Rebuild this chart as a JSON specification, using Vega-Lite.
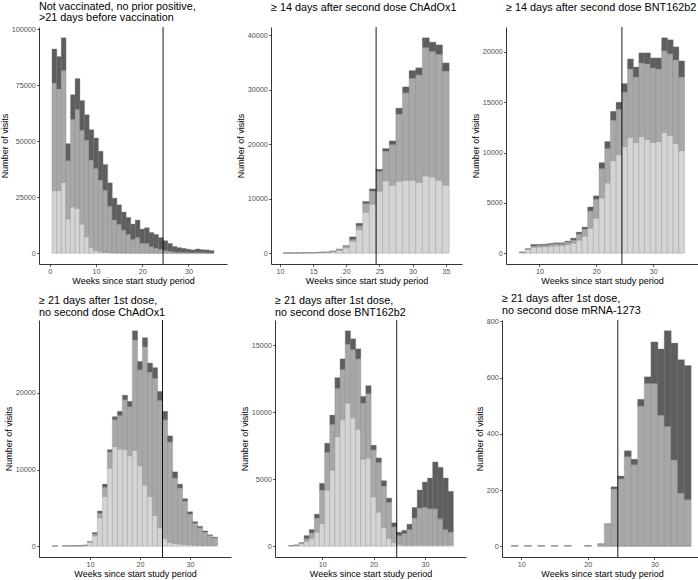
{
"$schema": "https://vega.github.io/schema/vega-lite/v6.json",
"padding": 0,
"background": "white",
"config": {
  "view": {"stroke": null},
  "font": "Liberation Sans",
  "title": {"fontSize": 10.8, "fontWeight": "normal", "anchor": "start", "frame": "group", "color": "black", "offset": 2, "lineHeight": 11.5, "font": "Liberation Sans"},
  "axis": {"grid": false, "domainColor": "black", "domainWidth": 0.8, "tickColor": "#333333", "tickWidth": 0.8, "tickSize": 2.5, "labelColor": "#4d4d4d", "labelFontSize": 7.2, "labelFont": "Liberation Sans", "titleFont": "Liberation Sans", "titleFontSize": 9, "titleFontWeight": "normal", "titleColor": "black", "labelPadding": 1.2, "titlePadding": 1.5, "labelFlush": false, "labelOverlap": false}
},
"datasets": {
  "p1": [
    {"w":1,"g1":27900,"g2":48000,"g3":15200},{"w":2,"g1":28000,"g2":45300,"g3":14400},{"w":3,"g1":31600,"g2":49900,"g3":14600},{"w":4,"g1":15300,"g2":26000,"g3":7600},{"w":5,"g1":20700,"g2":39000,"g3":11000},{"w":6,"g1":20000,"g2":44100,"g3":13800},{"w":7,"g1":13000,"g2":41800,"g3":13300},{"w":8,"g1":7400,"g2":43000,"g3":11400},{"w":9,"g1":2700,"g2":38800,"g3":13600},{"w":10,"g1":1200,"g2":36600,"g3":13600},{"w":11,"g1":700,"g2":31900,"g3":12900},{"w":12,"g1":500,"g2":27600,"g3":11500},{"w":13,"g1":300,"g2":20700,"g3":10400},{"w":14,"g1":200,"g2":14600,"g3":9800},{"w":15,"g1":150,"g2":12750,"g3":8700},{"w":16,"g1":100,"g2":10300,"g3":8000},{"w":17,"g1":100,"g2":8300,"g3":7600},{"w":18,"g1":100,"g2":6100,"g3":6800},{"w":19,"g1":100,"g2":7000,"g3":7700},{"w":20,"g1":80,"g2":4300,"g3":6400},{"w":21,"g1":80,"g2":4300,"g3":7000},{"w":22,"g1":60,"g2":2900,"g3":6300},{"w":23,"g1":50,"g2":2150,"g3":6200},{"w":24,"g1":50,"g2":1750,"g3":5200},{"w":25,"g1":40,"g2":1150,"g3":4400},{"w":26,"g1":30,"g2":870,"g3":3500},{"w":27,"g1":30,"g2":570,"g3":2400},{"w":28,"g1":20,"g2":430,"g3":2050},{"w":29,"g1":20,"g2":380,"g3":1800},{"w":30,"g1":20,"g2":280,"g3":1500},{"w":31,"g1":20,"g2":230,"g3":1250},{"w":32,"g1":20,"g2":280,"g3":1600},{"w":33,"g1":20,"g2":230,"g3":1350},{"w":34,"g1":20,"g2":180,"g3":1300},{"w":35,"g1":20,"g2":130,"g3":1050}
  ],
  "p2": [
    {"w":11,"g1":50,"g2":0,"g3":0},{"w":12,"g1":60,"g2":0,"g3":0},{"w":13,"g1":70,"g2":5,"g3":0},{"w":14,"g1":90,"g2":10,"g3":0},{"w":15,"g1":110,"g2":10,"g3":0},{"w":16,"g1":140,"g2":20,"g3":0},{"w":17,"g1":170,"g2":30,"g3":5},{"w":18,"g1":300,"g2":80,"g3":20},{"w":19,"g1":550,"g2":150,"g3":50},{"w":20,"g1":1000,"g2":300,"g3":100},{"w":21,"g1":2200,"g2":300,"g3":500},{"w":22,"g1":4300,"g2":700,"g3":500},{"w":23,"g1":7500,"g2":1600,"g3":400},{"w":24,"g1":9000,"g2":2400,"g3":400},{"w":25,"g1":11400,"g2":3600,"g3":400},{"w":26,"g1":13300,"g2":5400,"g3":500},{"w":27,"g1":12500,"g2":7400,"g3":700},{"w":28,"g1":13200,"g2":12300,"g3":1100},{"w":29,"g1":13400,"g2":16000,"g3":1100},{"w":30,"g1":13400,"g2":18700,"g3":1400},{"w":31,"g1":13000,"g2":19700,"g3":1300},{"w":32,"g1":14200,"g2":23500,"g3":1800},{"w":33,"g1":14000,"g2":23000,"g3":1700},{"w":34,"g1":13400,"g2":23100,"g3":1700},{"w":35,"g1":12500,"g2":20900,"g3":1500}
  ],
  "p3": [
    {"w":7,"g1":100,"g2":0,"g3":0},{"w":8,"g1":400,"g2":30,"g3":10},{"w":9,"g1":600,"g2":120,"g3":160},{"w":10,"g1":630,"g2":150,"g3":100},{"w":11,"g1":650,"g2":150,"g3":100},{"w":12,"g1":700,"g2":180,"g3":100},{"w":13,"g1":750,"g2":190,"g3":100},{"w":14,"g1":750,"g2":190,"g3":100},{"w":15,"g1":850,"g2":250,"g3":100},{"w":16,"g1":1000,"g2":300,"g3":200},{"w":17,"g1":1300,"g2":600,"g3":200},{"w":18,"g1":1700,"g2":700,"g3":200},{"w":19,"g1":2500,"g2":1700,"g3":400},{"w":20,"g1":3500,"g2":1850,"g3":350},{"w":21,"g1":5500,"g2":2900,"g3":600},{"w":22,"g1":7000,"g2":3400,"g3":700},{"w":23,"g1":9200,"g2":4000,"g3":900},{"w":24,"g1":9800,"g2":4500,"g3":700},{"w":25,"g1":10600,"g2":5400,"g3":850},{"w":26,"g1":11500,"g2":6800,"g3":1000},{"w":27,"g1":11000,"g2":6500,"g3":1000},{"w":28,"g1":11600,"g2":7300,"g3":1000},{"w":29,"g1":11300,"g2":7500,"g3":1100},{"w":30,"g1":11000,"g2":7400,"g3":1000},{"w":31,"g1":11100,"g2":7200,"g3":1100},{"w":32,"g1":12000,"g2":8100,"g3":1300},{"w":33,"g1":11700,"g2":8100,"g3":1400},{"w":34,"g1":10900,"g2":8300,"g3":1300},{"w":35,"g1":10200,"g2":7300,"g3":1600}
  ],
  "p4": [
    {"w":3,"g1":30,"g2":0,"g3":0},{"w":5,"g1":60,"g2":0,"g3":0},{"w":6,"g1":50,"g2":0,"g3":0},{"w":7,"g1":60,"g2":0,"g3":0},{"w":8,"g1":70,"g2":0,"g3":0},{"w":9,"g1":120,"g2":0,"g3":0},{"w":10,"g1":550,"g2":50,"g3":0},{"w":11,"g1":1350,"g2":250,"g3":200},{"w":12,"g1":3700,"g2":600,"g3":300},{"w":13,"g1":6500,"g2":1200,"g3":400},{"w":14,"g1":10200,"g2":2100,"g3":300},{"w":15,"g1":13000,"g2":3500,"g3":400},{"w":16,"g1":12700,"g2":4350,"g3":550},{"w":17,"g1":12600,"g2":6500,"g3":600},{"w":18,"g1":11800,"g2":6400,"g3":700},{"w":19,"g1":12500,"g2":14400,"g3":1200},{"w":20,"g1":10500,"g2":12500,"g3":1100},{"w":21,"g1":8000,"g2":18000,"g3":1200},{"w":22,"g1":6500,"g2":16200,"g3":1200},{"w":23,"g1":4000,"g2":17900,"g3":1400},{"w":24,"g1":2400,"g2":16600,"g3":1200},{"w":25,"g1":1000,"g2":15500,"g3":1100},{"w":26,"g1":500,"g2":13100,"g3":800},{"w":27,"g1":350,"g2":8550,"g3":800},{"w":28,"g1":300,"g2":7300,"g3":500},{"w":29,"g1":250,"g2":5650,"g3":300},{"w":30,"g1":200,"g2":4000,"g3":300},{"w":31,"g1":150,"g2":2850,"g3":200},{"w":32,"g1":120,"g2":2280,"g3":200},{"w":33,"g1":100,"g2":1750,"g3":150},{"w":34,"g1":100,"g2":1300,"g3":100},{"w":35,"g1":100,"g2":1000,"g3":100}
  ],
  "p5": [
    {"w":4,"g1":50,"g2":0,"g3":0},{"w":5,"g1":80,"g2":0,"g3":0},{"w":6,"g1":200,"g2":50,"g3":20},{"w":7,"g1":370,"g2":200,"g3":230},{"w":8,"g1":570,"g2":430,"g3":250},{"w":9,"g1":1050,"g2":1050,"g3":300},{"w":10,"g1":1700,"g2":2500,"g3":500},{"w":11,"g1":4200,"g2":2800,"g3":700},{"w":12,"g1":5700,"g2":3400,"g3":700},{"w":13,"g1":8200,"g2":3600,"g3":800},{"w":14,"g1":9450,"g2":3750,"g3":800},{"w":15,"g1":10700,"g2":4400,"g3":1000},{"w":16,"g1":9600,"g2":5100,"g3":800},{"w":17,"g1":8750,"g2":5250,"g3":750},{"w":18,"g1":6500,"g2":4200,"g3":500},{"w":19,"g1":6600,"g2":4800,"g3":600},{"w":20,"g1":3700,"g2":3500,"g3":350},{"w":21,"g1":2550,"g2":3700,"g3":350},{"w":22,"g1":1400,"g2":3100,"g3":400},{"w":23,"g1":600,"g2":2700,"g3":300},{"w":24,"g1":270,"g2":1180,"g3":300},{"w":25,"g1":150,"g2":650,"g3":250},{"w":26,"g1":100,"g2":850,"g3":250},{"w":27,"g1":100,"g2":1150,"g3":400},{"w":28,"g1":100,"g2":2000,"g3":800},{"w":29,"g1":100,"g2":2750,"g3":1350},{"w":30,"g1":100,"g2":2800,"g3":1900},{"w":31,"g1":100,"g2":2700,"g3":2300},{"w":32,"g1":100,"g2":2700,"g3":3500},{"w":33,"g1":100,"g2":1950,"g3":3850},{"w":34,"g1":100,"g2":1150,"g3":3850},{"w":35,"g1":100,"g2":950,"g3":3050}
  ],
  "p6": [
    {"w":9,"g1":2,"g2":0,"g3":0},{"w":11,"g1":2,"g2":0,"g3":0},{"w":13,"g1":2,"g2":0,"g3":0},{"w":15,"g1":2,"g2":0,"g3":0},{"w":17,"g1":2,"g2":0,"g3":0},{"w":20,"g1":2,"g2":0,"g3":0},{"w":22,"g1":1,"g2":8,"g3":0},{"w":23,"g1":1,"g2":78,"g3":1},{"w":24,"g1":1,"g2":203,"g3":8},{"w":25,"g1":1,"g2":239,"g3":10},{"w":26,"g1":1,"g2":318,"g3":21},{"w":27,"g1":1,"g2":289,"g3":20},{"w":28,"g1":1,"g2":498,"g3":24},{"w":29,"g1":1,"g2":578,"g3":24},{"w":30,"g1":1,"g2":578,"g3":148},{"w":31,"g1":1,"g2":465,"g3":236},{"w":32,"g1":1,"g2":425,"g3":341},{"w":33,"g1":1,"g2":306,"g3":416},{"w":34,"g1":1,"g2":188,"g3":475},{"w":35,"g1":1,"g2":165,"g3":477}
  ],
  "cut": [{"w": 24.5}]
},
"vconcat": [
  {"hconcat": [
    {"width": 188, "height": 237,
     "title": {"text": ["Not vaccinated, no prior positive,", ">21 days before vaccination"]},
     "encoding": {"x": {"field": "w", "type": "quantitative", "scale": {"domain": [-1.25, 37.25], "nice": false, "zero": false}, "axis": {"values": [0, 10, 20, 30], "title": "Weeks since start study period"}}},
     "layer": [
       {"data": {"name": "p1"}, "transform": [{"fold": ["g1", "g2", "g3"], "as": ["k", "v"]}],
        "mark": {"type": "bar", "orient": "vertical", "width": 4.88, "stroke": "#7d7f81", "strokeWidth": 0.5, "strokeOpacity": 0.6},
        "encoding": {
          "y": {"field": "v", "type": "quantitative", "stack": "zero", "scale": {"domain": [-4805, 100905], "nice": false, "zero": false}, "axis": {"values": [0, 25000, 50000, 75000, 100000], "format": "d", "title": "Number of visits"}},
          "color": {"field": "k", "type": "nominal", "scale": {"domain": ["g1", "g2", "g3"], "range": ["#d2d5d4", "#a6a8aa", "#5c5e60"]}, "legend": null},
          "order": {"field": "k", "sort": "ascending"}}},
       {"data": {"name": "cut"}, "mark": {"type": "rule", "color": "black", "strokeWidth": 0.9}, "encoding": {}}
     ]},
    {"width": 191, "height": 237,
     "title": {"text": "≥ 14 days after second dose ChAdOx1", "offset": 14},
     "encoding": {"x": {"field": "w", "type": "quantitative", "scale": {"domain": [9.4, 36.7], "nice": false, "zero": false}, "axis": {"values": [10, 15, 20, 25, 30, 35], "title": "Weeks since start study period"}}},
     "layer": [
       {"data": {"name": "p2"}, "transform": [{"fold": ["g1", "g2", "g3"], "as": ["k", "v"]}],
        "mark": {"type": "bar", "orient": "vertical", "width": 7, "stroke": "#7d7f81", "strokeWidth": 0.5, "strokeOpacity": 0.6},
        "encoding": {
          "y": {"field": "v", "type": "quantitative", "stack": "zero", "scale": {"domain": [-1975, 41475], "nice": false, "zero": false}, "axis": {"values": [0, 10000, 20000, 30000, 40000], "format": "d", "title": "Number of visits"}},
          "color": {"field": "k", "type": "nominal", "scale": {"domain": ["g1", "g2", "g3"], "range": ["#d2d5d4", "#a6a8aa", "#5c5e60"]}, "legend": null},
          "order": {"field": "k", "sort": "ascending"}}},
       {"data": {"name": "cut"}, "mark": {"type": "rule", "color": "black", "strokeWidth": 0.9}, "encoding": {}}
     ]},
    {"width": 192, "height": 237,
     "title": {"text": "≥ 14 days after second dose BNT162b2", "offset": 14},
     "encoding": {"x": {"field": "w", "type": "quantitative", "scale": {"domain": [5.0, 37.0], "nice": false, "zero": false}, "axis": {"values": [10, 20, 30], "title": "Weeks since start study period"}}},
     "layer": [
       {"data": {"name": "p3"}, "transform": [{"fold": ["g1", "g2", "g3"], "as": ["k", "v"]}],
        "mark": {"type": "bar", "orient": "vertical", "width": 6, "stroke": "#7d7f81", "strokeWidth": 0.5, "strokeOpacity": 0.6},
        "encoding": {
          "y": {"field": "v", "type": "quantitative", "stack": "zero", "scale": {"domain": [-1070, 22470], "nice": false, "zero": false}, "axis": {"values": [0, 5000, 10000, 15000, 20000], "format": "d", "title": "Number of visits"}},
          "color": {"field": "k", "type": "nominal", "scale": {"domain": ["g1", "g2", "g3"], "range": ["#d2d5d4", "#a6a8aa", "#5c5e60"]}, "legend": null},
          "order": {"field": "k", "sort": "ascending"}}},
       {"data": {"name": "cut"}, "mark": {"type": "rule", "color": "black", "strokeWidth": 0.9}, "encoding": {}}
     ]}
  ], "spacing": 9},
  {"hconcat": [
    {"width": 192, "height": 237,
     "title": {"text": ["≥ 21 days after 1st dose,", "no second dose ChAdOx1"]},
     "encoding": {"x": {"field": "w", "type": "quantitative", "scale": {"domain": [0.8, 37.2], "nice": false, "zero": false}, "axis": {"values": [10, 20, 30], "title": "Weeks since start study period"}}},
     "layer": [
       {"data": {"name": "p4"}, "transform": [{"fold": ["g1", "g2", "g3"], "as": ["k", "v"]}],
        "mark": {"type": "bar", "orient": "vertical", "width": 5.3, "stroke": "#7d7f81", "strokeWidth": 0.5, "strokeOpacity": 0.6},
        "encoding": {
          "y": {"field": "v", "type": "quantitative", "stack": "zero", "scale": {"domain": [-1405, 29505], "nice": false, "zero": false}, "axis": {"values": [0, 10000, 20000], "format": "d", "title": "Number of visits"}},
          "color": {"field": "k", "type": "nominal", "scale": {"domain": ["g1", "g2", "g3"], "range": ["#d2d5d4", "#a6a8aa", "#5c5e60"]}, "legend": null},
          "order": {"field": "k", "sort": "ascending"}}},
       {"data": {"name": "cut"}, "mark": {"type": "rule", "color": "black", "strokeWidth": 0.9}, "encoding": {}}
     ]},
    {"width": 191, "height": 237,
     "title": {"text": ["≥ 21 days after 1st dose,", "no second dose BNT162b2"]},
     "encoding": {"x": {"field": "w", "type": "quantitative", "scale": {"domain": [1.8, 37.0], "nice": false, "zero": false}, "axis": {"values": [10, 20, 30], "title": "Weeks since start study period"}}},
     "layer": [
       {"data": {"name": "p5"}, "transform": [{"fold": ["g1", "g2", "g3"], "as": ["k", "v"]}],
        "mark": {"type": "bar", "orient": "vertical", "width": 5.4, "stroke": "#7d7f81", "strokeWidth": 0.5, "strokeOpacity": 0.6},
        "encoding": {
          "y": {"field": "v", "type": "quantitative", "stack": "zero", "scale": {"domain": [-805, 16905], "nice": false, "zero": false}, "axis": {"values": [0, 5000, 10000, 15000], "format": "d", "title": "Number of visits"}},
          "color": {"field": "k", "type": "nominal", "scale": {"domain": ["g1", "g2", "g3"], "range": ["#d2d5d4", "#a6a8aa", "#5c5e60"]}, "legend": null},
          "order": {"field": "k", "sort": "ascending"}}},
       {"data": {"name": "cut"}, "mark": {"type": "rule", "color": "black", "strokeWidth": 0.9}, "encoding": {}}
     ]},
    {"width": 200, "height": 237,
     "title": {"text": ["≥ 21 days after 1st dose,", "no second dose mRNA-1273"]},
     "encoding": {"x": {"field": "w", "type": "quantitative", "scale": {"domain": [7.85, 36.4], "nice": false, "zero": false}, "axis": {"values": [10, 20, 30], "title": "Weeks since start study period"}}},
     "layer": [
       {"data": {"name": "p6"}, "transform": [{"fold": ["g1", "g2", "g3"], "as": ["k", "v"]}],
        "mark": {"type": "bar", "orient": "vertical", "width": 7, "stroke": "#7d7f81", "strokeWidth": 0.5, "strokeOpacity": 0.6},
        "encoding": {
          "y": {"field": "v", "type": "quantitative", "stack": "zero", "scale": {"domain": [-38, 805], "nice": false, "zero": false}, "axis": {"values": [0, 200, 400, 600, 800], "format": "d", "title": "Number of visits"}},
          "color": {"field": "k", "type": "nominal", "scale": {"domain": ["g1", "g2", "g3"], "range": ["#d2d5d4", "#a6a8aa", "#5c5e60"]}, "legend": null},
          "order": {"field": "k", "sort": "ascending"}}},
       {"data": {"name": "cut"}, "mark": {"type": "rule", "color": "black", "strokeWidth": 0.9}, "encoding": {}}
     ]}
  ], "spacing": 9}
],
"spacing": 7
}
